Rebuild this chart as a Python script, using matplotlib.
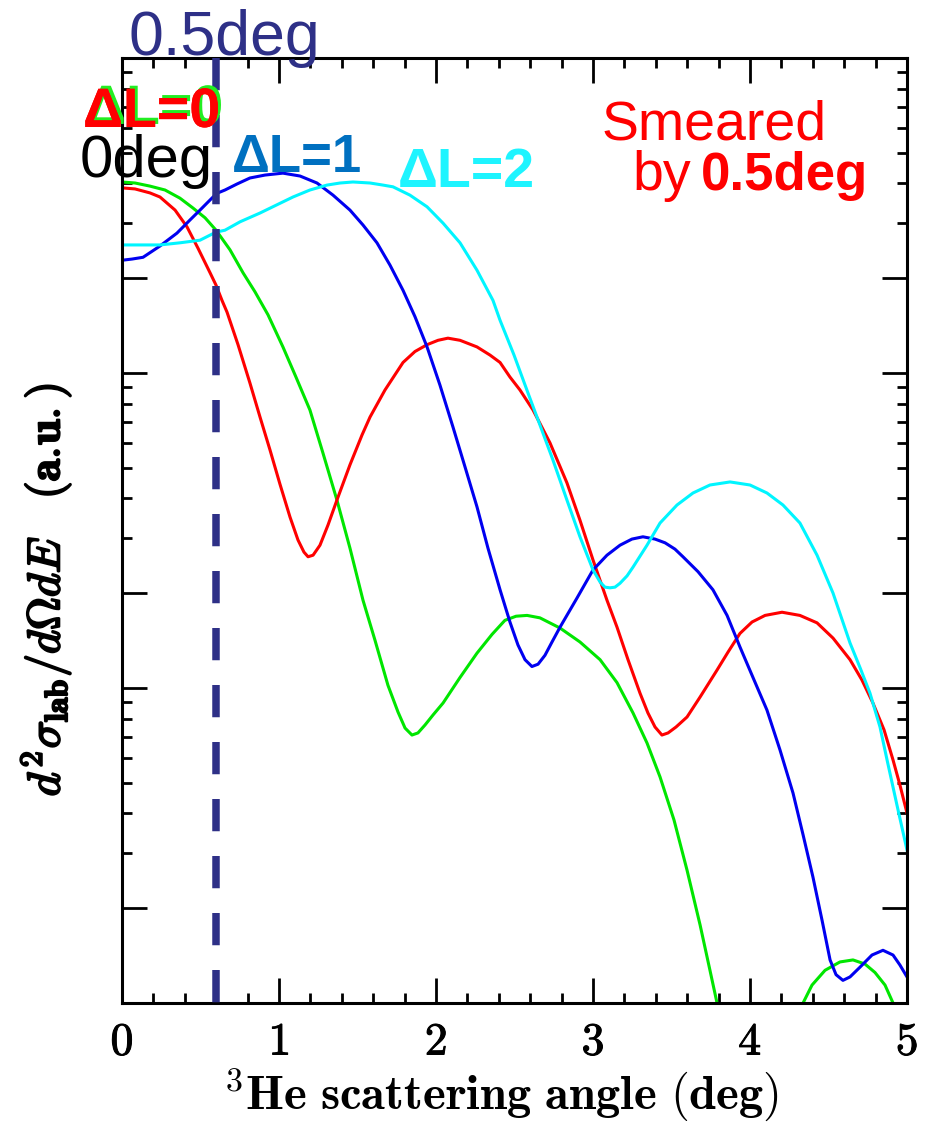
import matplotlib
matplotlib.use("Agg")
import matplotlib.pyplot as plt
import matplotlib.ticker as mticker
import matplotlib.patheffects as pe

plt.rcParams['mathtext.fontset'] = 'cm'

# dL=0, no smearing (deg, a.u.)
angle_dl0 = [0.000, 0.083, 0.178, 0.274, 0.369, 0.452, 0.529, 0.599, 0.688, 0.771,
             0.847, 0.930, 1.025, 1.108, 1.197, 1.280, 1.369, 1.452, 1.535, 1.611,
             1.694, 1.758, 1.803, 1.847, 1.885, 1.930, 1.981, 2.045, 2.153, 2.261,
             2.357, 2.439, 2.510, 2.580, 2.662, 2.790, 2.917, 3.045, 3.153, 3.255,
             3.344, 3.427, 3.516, 3.599, 3.682, 3.745, 3.790, 3.822]
xsec_dl0 = [404, 401, 392, 381, 359, 334, 311, 284, 246, 208,
            181, 153, 121, 97.1, 76.3, 55.7, 39.5, 27.8, 19.0, 14.2,
            10.2, 8.39, 7.46, 7.09, 7.20, 7.63, 8.21, 8.96, 10.8, 12.9,
            14.8, 16.4, 16.9, 17.0, 16.7, 15.5, 14.0, 12.3, 10.4, 8.33,
            6.69, 5.22, 3.81, 2.64, 1.77, 1.27, 1.0, 0.851]
angle_dl0_tail = [4.287, 4.338, 4.395, 4.478, 4.573, 4.656, 4.732, 4.796, 4.860,
                  4.911, 4.955]
xsec_dl0_tail = [0.763, 1.0, 1.14, 1.27, 1.35, 1.37, 1.33, 1.25, 1.14, 1.0, 0.821]

# dL=0 smeared by 0.5 deg
angle_smear = [0.000, 0.083, 0.178, 0.242, 0.338, 0.414, 0.484, 0.561, 0.599, 0.637,
               0.669, 0.739, 0.815, 0.879, 0.943, 1.006, 1.070, 1.121, 1.159, 1.185,
               1.217, 1.261, 1.312, 1.369, 1.452, 1.529, 1.580, 1.675, 1.790, 1.866,
               1.943, 2.013, 2.076, 2.153, 2.261, 2.344, 2.408, 2.471, 2.535, 2.618,
               2.726, 2.834, 2.917, 3.000, 3.089, 3.153, 3.223, 3.299, 3.350, 3.395,
               3.439, 3.478, 3.529, 3.599, 3.682, 3.790, 3.860, 3.936, 4.013, 4.096,
               4.204, 4.318, 4.427, 4.529, 4.637, 4.713, 4.783, 4.854, 4.911, 4.955,
               5.000]
xsec_smear = [387, 384, 373, 362, 329, 291, 249, 208, 190, 170,
              156, 123, 92.9, 72.5, 56.9, 44.4, 34.9, 29.5, 27.0, 26.1,
              26.4, 28.4, 32.9, 39.5, 51.1, 63.6, 72.5, 88.3, 108, 117,
              123, 127, 129, 127, 121, 114, 108, 97.1, 88.3, 76.3,
              60.0, 44.8, 34.1, 25.5, 19.0, 15.6, 12.3, 9.64, 8.33, 7.52,
              7.09, 7.20, 7.52, 8.09, 9.36, 11.4, 13.0, 14.9, 16.2, 17.0,
              17.4, 17.0, 16.1, 14.4, 12.3, 10.6, 8.96, 7.36, 5.91, 4.92,
              4.01]

# dL=1
angle_dl1 = [0.000, 0.064, 0.134, 0.242, 0.350, 0.433, 0.497, 0.548, 0.580, 0.611,
             0.656, 0.732, 0.815, 0.911, 1.025, 1.134, 1.242, 1.344, 1.452, 1.535,
             1.624, 1.707, 1.790, 1.866, 1.943, 2.025, 2.108, 2.185, 2.261, 2.331,
             2.408, 2.471, 2.522, 2.567, 2.611, 2.650, 2.694, 2.739, 2.790, 2.898,
             3.000, 3.089, 3.172, 3.248, 3.318, 3.395, 3.459, 3.522, 3.573, 3.669,
             3.764, 3.854, 3.936, 4.019, 4.108, 4.191, 4.274, 4.338, 4.401, 4.459,
             4.510, 4.548, 4.592, 4.637, 4.701, 4.777, 4.847, 4.911, 4.955, 5.000]
xsec_dl1 = [228, 230, 233, 253, 278, 306, 329, 349, 362, 373,
            381, 398, 416, 425, 431, 422, 401, 367, 329, 295,
            259, 220, 183, 151, 121, 91.6, 67.4, 50.3, 37.6, 27.8,
            20.5, 16.2, 13.7, 12.3, 11.7, 11.9, 12.7, 14.0, 15.6, 19.3,
            23.7, 26.4, 28.4, 29.7, 30.2, 29.7, 28.9, 27.6, 26.1, 23.4,
            20.5, 17.0, 13.5, 10.8, 8.51, 6.36, 4.64, 3.42, 2.51, 1.83,
            1.37, 1.23, 1.18, 1.21, 1.30, 1.42, 1.47, 1.42, 1.32, 1.21]

# dL=2
angle_dl2 = [0.000, 0.115, 0.242, 0.369, 0.497, 0.561, 0.599, 0.656, 0.752, 0.879,
             0.987, 1.089, 1.197, 1.306, 1.389, 1.471, 1.580, 1.662, 1.726, 1.834,
             1.943, 2.045, 2.153, 2.261, 2.363, 2.408, 2.497, 2.586, 2.662, 2.745,
             2.834, 2.917, 3.000, 3.045, 3.076, 3.108, 3.140, 3.172, 3.217, 3.255,
             3.344, 3.427, 3.535, 3.637, 3.745, 3.873, 4.000, 4.108, 4.210, 4.318,
             4.427, 4.529, 4.637, 4.701, 4.764, 4.828, 4.873, 4.936, 5.000]
xsec_dl2 = [255, 255, 255, 259, 264, 274, 280, 284, 302, 322,
            342, 362, 381, 395, 401, 404, 401, 395, 390, 367,
            337, 299, 259, 212, 170, 147, 114, 86.4, 68.4, 52.9,
            39.5, 30.2, 23.7, 21.7, 20.9, 20.8, 20.9, 21.5, 22.7, 24.2,
            28.4, 33.4, 38.1, 41.6, 44.1, 45.1, 44.1, 41.6, 38.1, 33.4,
            26.4, 20.0, 13.9, 11.6, 9.64, 7.52, 5.91, 4.25, 3.06]

marker_angle = 0.6
x_ticks = [0, 1, 2, 3, 4, 5]
y_major = [1, 2, 10, 20, 100, 200, 1000]
y_minor = [3, 4, 5, 6, 7, 8, 9, 30, 40, 50, 60, 70, 80, 90,
           300, 400, 500, 600, 700, 800, 900]

W, H = 930, 1124
fig = plt.figure(figsize=(W / 100, H / 100), dpi=100)
ax = fig.add_axes([122 / W, 1 - 1003 / H, 785 / W, 945 / H])

lw = 2.2
green, red, blue, cyan = '#00e600', '#ff0000', '#0000f0', '#00f5ff'
ax.plot(angle_dl0, xsec_dl0, color=green, lw=lw)
ax.plot(angle_dl0_tail, xsec_dl0_tail, color=green, lw=lw)
ax.plot(angle_smear, xsec_smear, color=red, lw=lw)
ax.plot(angle_dl1, xsec_dl1, color=blue, lw=lw)
ax.plot(angle_dl2, xsec_dl2, color=cyan, lw=lw)

# marker line, dashes start at the top edge
ax.plot([marker_angle, marker_angle], [1000, 1], color='#2e3087', lw=5.4,
        linestyle=(0, (4.3, 3.3)), dash_capstyle='butt', zorder=5,
        clip_on=False)

ax.set_xlim(0, 5)
ax.set_yscale('log')
ax.set_ylim(1, 1000)

ax.xaxis.set_major_locator(mticker.FixedLocator(x_ticks))
ax.xaxis.set_minor_locator(mticker.MultipleLocator(0.2))
ax.set_xticklabels([r'$\mathbf{%d}$' % t for t in x_ticks])
ax.yaxis.set_major_locator(mticker.FixedLocator(y_major))
ax.yaxis.set_minor_locator(mticker.FixedLocator(y_minor))
ax.yaxis.set_major_formatter(mticker.NullFormatter())
ax.yaxis.set_minor_formatter(mticker.NullFormatter())

ax.tick_params(which='both', direction='in', top=True, right=True, width=2.0,
               colors='black')
ax.tick_params(which='major', length=18)
ax.tick_params(which='minor', length=7)
ax.tick_params(axis='x', which='major', labelsize=33, pad=12)
for lab in ax.get_xticklabels():
    lab.set_path_effects([pe.withStroke(linewidth=0.7, foreground='black')])
for s in ax.spines.values():
    s.set_linewidth(2.2)

ax.set_xlabel(r'${}^{\mathbf{3}}\mathbf{He\ scattering\ angle\ (deg)}$',
              fontsize=35)
ax.xaxis.set_label_coords(0.483, -0.0667)
ylab = ax.set_ylabel(r'$d^2\sigma_{\mathbf{lab}}/d\Omega dE\ \ \ \mathbf{(a.\!u.)}$',
                     fontsize=33)
ax.yaxis.set_label_coords(-0.062, 0.437)
ylab.set_path_effects([pe.withStroke(linewidth=1.5, foreground='black')])


def put(px, py, s, **kw):
    return fig.text(px / W, 1 - py / H, s, va='baseline', ha='left',
                    family='Liberation Sans', **kw)


put(128, 55, '0.5deg', fontsize=45, color='#2e3087')
t0 = put(83, 127, '\u0394L=0', fontsize=40, fontweight='bold', color=red)
t0.set_path_effects([pe.withSimplePatchShadow(offset=(2.2, 2.2),
                                              shadow_rgbFace='#22ee22', alpha=1),
                     pe.Normal()])
put(80, 177, '0deg', fontsize=43, color='black')
put(232, 172, '\u0394L=1', fontsize=38, fontweight='bold', color='#0070c0')
put(398, 187, '\u0394L=2', fontsize=40, fontweight='bold', color='#1ef4ff')
put(602, 140, 'Smeared', fontsize=40, color=red)
put(632, 190, 'by', fontsize=40, color=red)
put(701, 190, '0.5deg', fontsize=38, fontweight='bold', color=red)

fig.savefig('out.png', dpi=100)
